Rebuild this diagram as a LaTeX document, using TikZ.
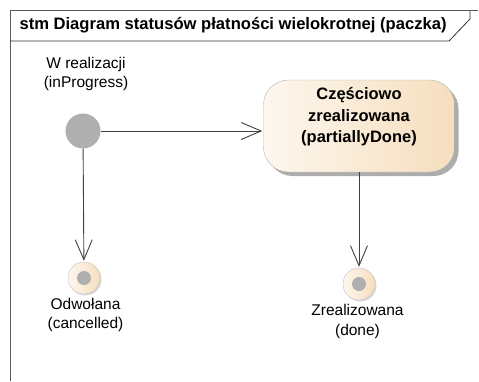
\documentclass[tikz,border=0pt]{standalone}
\usepackage{fontspec}
\setmainfont{Liberation Sans}
\usetikzlibrary{arrows.meta,shadows}

\definecolor{creamL}{HTML}{FDF7EE}
\definecolor{creamR}{HTML}{F6DEBE}
\definecolor{dotgray}{HTML}{AFAFAF}
\definecolor{edgegray}{HTML}{404040}

\begin{document}
\begin{tikzpicture}[x=1pt,y=-1pt,>={Straight Barb[length=20pt,width=17pt]},shorten >=1pt]
            \tikzstyle{initial}=[circle,fill=dotgray,minimum size=35pt,inner sep=0pt]
            \tikzstyle{final}=[circle,draw=black!25,left color=creamL,right color=creamR,minimum size=32pt,inner sep=0pt,
                drop shadow={shadow xshift=1.5pt,shadow yshift=-1.5pt,fill=black!30},
                path picture={\fill[dotgray] (path picture bounding box.center) circle (7pt);}]
            \tikzstyle{state}=[rounded corners=25pt,draw=black!30,left color=creamL,right color=creamR,
                minimum width=191pt,minimum height=92pt,
                drop shadow={shadow xshift=4pt,shadow yshift=-4pt,fill=black!40,opacity=0.8}]
            \tikzstyle{statetext}=[align=center,font=\fontsize{16.5}{21.5}\selectfont\bfseries]
            \tikzstyle{caption}=[align=center,font=\fontsize{15.5}{19.5}\selectfont]
            \tikzstyle{trans}=[->,draw=edgegray,line width=0.9pt]

            \useasboundingbox (0,0) rectangle (479,381);

            % frame
            \draw[black!65,line width=1pt] (10,381) -- (10,10) -- (479,10);
            \draw[black!80,line width=0.8pt] (10,41) -- (449,41) -- (470,19) -- (470,10);
            \node[anchor=west,font=\fontsize{16.6}{20}\selectfont\bfseries] (T) at (16,25.5) {stm Diagram statusów płatności wielokrotnej (paczka)};

            % states
            \node[initial] (S-init) at (83,131) {};
            \node[state] (S-part) at (359,126) {};
            \node[statetext] (P-txt) at ([yshift=9pt]S-part.center) {Częściowo\\zrealizowana\\(partiallyDone)};
            \node[final] (S-cancel) at (84,278) {};
            \node[final] (S-done) at (359,284) {};

            \foreach \st/\x/\y/\txt in {init/86/74/{W realizacji\\(inProgress)}, cancel/85.5/315/{Odwołana\\(cancelled)}, done/357.5/321.5/{Zrealizowana\\(done)}}
                \node[caption] (L-\st) at (\x,\y) {\txt};

            % transitions
            \draw[trans] (S-init.east) -- (S-init.east -| S-part.west);
            \draw[trans] (S-init) -- (S-cancel);
            \draw[trans] (S-part) -- (S-done);
        \end{tikzpicture}
\end{document}
